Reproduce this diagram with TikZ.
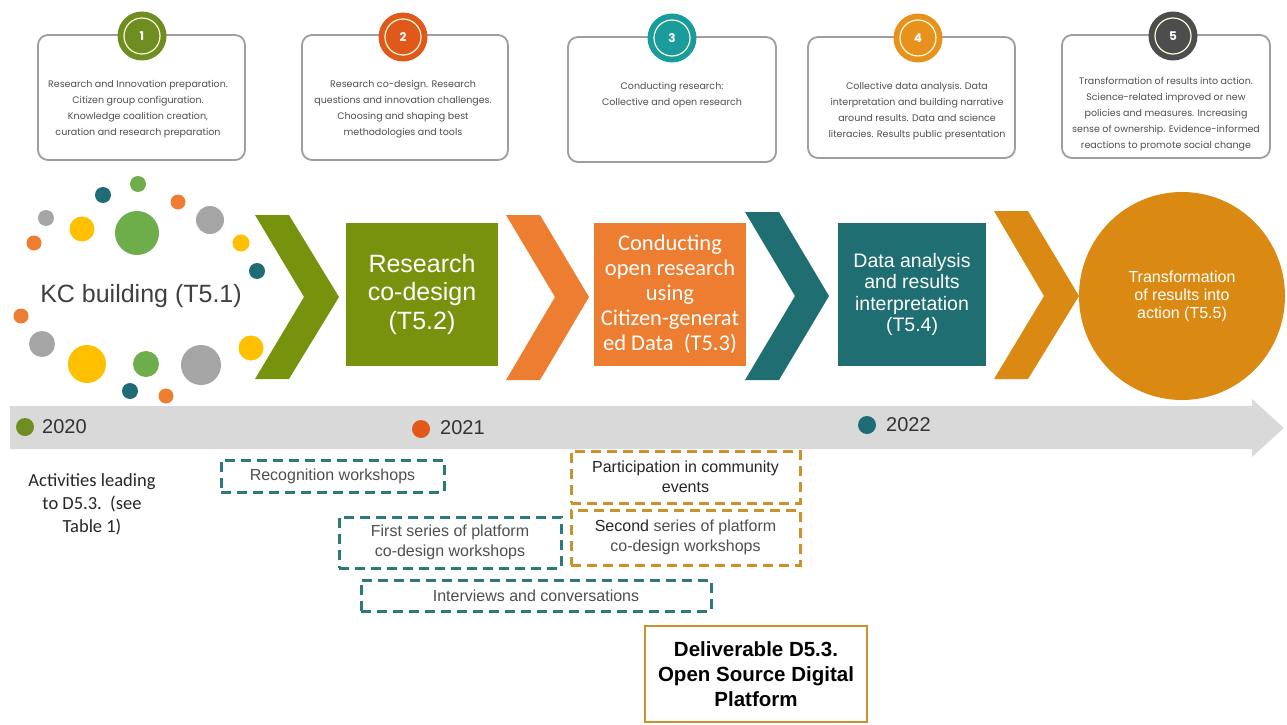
\documentclass[tikz,border=0pt]{standalone}
\usepackage{fontspec}
\setmainfont{Liberation Sans}
\newfontfamily\calfont{Carlito}
\newfontfamily\popfont{Poppins}
\usetikzlibrary{shapes.geometric}
\definecolor{cgreen}{HTML}{77930E}
\definecolor{corange}{HTML}{ED7D31}
\definecolor{cteal}{HTML}{1E6E72}
\definecolor{cgold}{HTML}{DA8A12}
\definecolor{dgreen}{HTML}{6DAE4A}
\definecolor{dyellow}{HTML}{FFC000}
\definecolor{dgray}{HTML}{A5A5A5}
\definecolor{dteal}{HTML}{1F6C76}
\definecolor{dorange}{HTML}{ED7D31}
\definecolor{nA}{HTML}{6E8E22}
\definecolor{nB}{HTML}{E0591B}
\definecolor{nC}{HTML}{1A9C9C}
\definecolor{nD}{HTML}{E8921E}
\definecolor{nE}{HTML}{4D4D4D}
\definecolor{dashteal}{HTML}{2E7A78}
\definecolor{dashgold}{HTML}{C9922A}
\definecolor{band}{HTML}{D9D9D9}
\definecolor{boxtext}{HTML}{4F4F4F}
\tikzset{
  topbox/.style={draw=black!38, line width=1.8pt, rounded corners=10pt, fill=white, inner sep=0pt},
  toptext/.style={text=boxtext, align=center, font=\popfont\fontsize{9.5}{16}\selectfont, inner sep=0pt},
  numcirc/.style={circle, minimum size=49pt, inner sep=0pt, text=white, font=\popfont\bfseries\fontsize{12}{14}\selectfont},
  ring/.style={draw=white!85!yellow, line width=1.2pt},
  dot/.style={circle, inner sep=0pt},
  sq/.style={minimum width=152pt, minimum height=143pt, inner sep=0pt, text=white, align=center},
  dashbox/.style={line width=3pt, dash pattern=on 10pt off 6pt, inner sep=0pt, align=center, font=\fontsize{16}{20.5}\selectfont},
  yeardot/.style={circle, minimum size=18pt, inner sep=0pt},
  yeartext/.style={anchor=west, inner sep=0pt, font=\fontsize{20}{22}\selectfont, text=black!80},
}
\begin{document}
\begin{tikzpicture}[x=1pt,y=-1pt]
\useasboundingbox (0,0) rectangle (1287,725);
\fill[white] (0,0) rectangle (1287,725);

% ---- top boxes ----
\node[topbox, minimum width=207pt, minimum height=125pt] (b1) at (141.5,97.5) {};
\node[topbox, minimum width=206pt, minimum height=125pt] (b2) at (405,97.5) {};
\node[topbox, minimum width=208pt, minimum height=125pt] (b3) at (672,99.5) {};
\node[topbox, minimum width=207pt, minimum height=121pt] (b4) at (911.5,97.5) {};
\node[topbox, minimum width=208pt, minimum height=123pt] (b5) at (1166,96.5) {};

\node[toptext] (t1) at (138,109) {Research and Innovation preparation.\\Citizen group configuration.\\Knowledge coalition creation,\\curation and research preparation};
\node[toptext] (t2) at (403,109) {Research co-design. Research\\questions and innovation challenges.\\Choosing and shaping best\\methodologies and tools};
\node[toptext] (t3) at (672,95.5) {Conducting research:\\Collective and open research};
\node[toptext] (t4) at (917,111.5) {Collective data analysis. Data\\interpretation and building narrative\\around results. Data and science\\literacies. Results public presentation};
\node[toptext] (t5) at (1166,114) {Transformation of results into action.\\Science-related improved or new\\policies and measures. Increasing\\sense of ownership. Evidence-informed\\reactions to promote social change};

\node[numcirc, fill=nA] (n1) at (142,36) {1};
\node[numcirc, fill=nB] (n2) at (403,37) {2};
\node[numcirc, fill=nC] (n3) at (672,38) {3};
\node[numcirc, fill=nD] (n4) at (918,38) {4};
\node[numcirc, fill=nE] (n5) at (1173,36) {5};
\foreach \n in {n1,n2,n3,n4,n5}{\draw[ring] (\n.center) circle (18pt);}

% ---- KC dots ----
\foreach \x/\y/\r/\c [count=\i] in {
 103/195/8/dteal, 138/184/8/dgreen, 178/202/7.5/dorange, 46/218/8/dgray,
 82/229/12.5/dyellow, 137/233/22/dgreen, 210/220/14/dgray, 34/243/7.5/dorange,
 241/243/8.5/dyellow, 257/271/8/dteal, 21/316/7.5/dorange, 42/344/13/dgray,
 87/364/19/dyellow, 146/364/13/dgreen, 201/365/20/dgray, 251/348/12.5/dyellow,
 130/391/8/dteal, 166/396/7.5/dorange}
 {\node[dot, fill=\c, minimum size=2*\r pt] (d\i) at (\x,\y) {};}
\node[inner sep=0pt, text=black!75, font=\fontsize{25}{30}\selectfont] (kc) at (141,296) {KC building (T5.1)};

% ---- chevrons ----
\fill[cgreen] (255,215) -- (289,215) -- (339,297) -- (289,379) -- (255,379) -- (304,297) -- cycle;
\fill[corange] (506,215) -- (540,215) -- (589,297) -- (540,380) -- (506,380) -- (555,297) -- cycle;
\fill[cteal] (745,212) -- (779,212) -- (829,296) -- (779,380) -- (745,380) -- (795,296) -- cycle;
\fill[cgold] (994,211) -- (1028,211) -- (1079,296) -- (1028,379) -- (994,379) -- (1044,296) -- cycle;

% ---- squares ----
\node[sq, fill=cgreen, font=\fontsize{25}{28.5}\selectfont] (s2) at (422,294.5) {Research\\co-design\\(T5.2)};
\node[sq, fill=corange, font=\calfont\fontsize{22.5}{25}\selectfont] (s3) at (670,294.5) {Conducting\\open research\\using\\Citizen-generat\\ed Data~~(T5.3)};
\node[sq, minimum width=148pt, fill=cteal, font=\fontsize{19.5}{21.3}\selectfont] (s4) at (912,294.5) {Data analysis\\and results\\interpretation\\(T5.4)};
\node[ellipse, fill=cgold, minimum width=206pt, minimum height=208pt, inner sep=0pt, text=white, align=center, font=\fontsize{16}{18}\selectfont] (s5) at (1182,296) {Transformation\\of results into\\action (T5.5)};

% ---- timeline ----
\fill[band] (10,406) -- (1252,406) -- (1252,399) -- (1284,428) -- (1252,457) -- (1252,449) -- (10,449) -- cycle;
\node[yeardot, fill=nA] (y0) at (25,427) {};
\node[yeartext] (y0t) at (42,427) {2020};
\node[yeardot, fill=nB] (y1) at (421,429) {};
\node[yeartext] (y1t) at (440,428) {2021};
\node[yeardot, fill=dteal] (y2) at (867,425) {};
\node[yeartext] (y2t) at (886,425) {2022};

% ---- activities ----
\node[align=center, inner sep=0pt, text=black!85, font=\calfont\fontsize{18.5}{23}\selectfont] (act) at (92,504) {Activities leading\\to D5.3.~~(see\\Table 1)};

\node[dashbox, draw=dashteal, minimum width=223pt, minimum height=32pt, text=boxtext] (rw) at (332.5,476) {Recognition workshops};
\node[dashbox, draw=dashteal, minimum width=222pt, minimum height=51pt, text=boxtext] (fs) at (450,542.5) {First series of platform\\co-design workshops};
\node[dashbox, draw=dashteal, minimum width=350pt, minimum height=31pt, text=boxtext] (iv) at (536,595.5) {Interviews and conversations};
\node[dashbox, draw=dashgold, minimum width=229pt, minimum height=52pt, text=black!85] (pc) at (685.5,477) {Participation in community\\events};
\node[dashbox, draw=dashgold, minimum width=229pt, minimum height=55pt, text=boxtext] (ss) at (685.5,537.5) {\textcolor{black!85}{Second} series of platform\\co-design workshops};

\node[draw=dashgold, line width=2.5pt, minimum width=222pt, minimum height=96pt, inner sep=0pt, align=center, font=\bfseries\fontsize{20.5}{25}\selectfont] (del) at (756,674) {Deliverable D5.3.\\Open Source Digital\\Platform};
\end{tikzpicture}
\end{document}
